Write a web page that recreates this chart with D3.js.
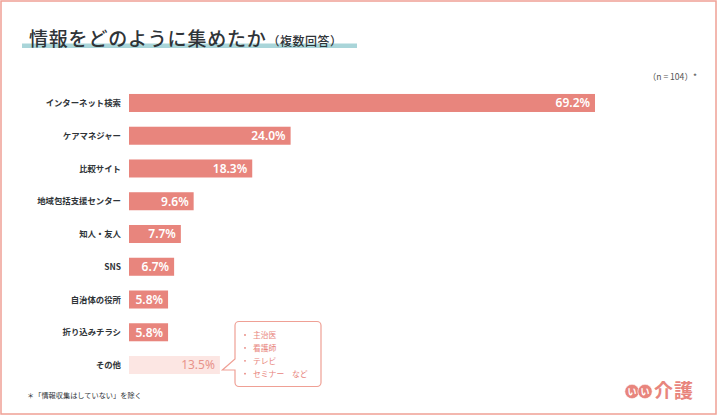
<!DOCTYPE html>
<html>
<head>
<meta charset="utf-8">
<title>情報をどのように集めたか</title>
<script src="https://cdn.jsdelivr.net/npm/d3@7"></script>
<style>
  body { margin: 0; background: #fff; }
  svg { display: block; font-family: "Noto Sans CJK JP", "Noto Sans", sans-serif; }
</style>
</head>
<body>
<script>
// data
var categories = ["インターネット検索", "ケアマネジャー", "比較サイト", "地域包括支援センター",
  "知人・友人", "SNS", "自治体の役所", "折り込みチラシ", "その他"];
var values = [69.2, 24.0, 18.3, 9.6, 7.7, 6.7, 5.8, 5.8, 13.5];
var otherItems = ["主治医", "看護師", "テレビ", "セミナー　など"];

var width = 720, height = 420;
var pink = "#e8857d";

var svg = d3.select("body").append("svg")
  .attr("width", width)
  .attr("height", height);

// frame
svg.append("rect")
  .attr("x", 1).attr("y", 1)
  .attr("width", 715).attr("height", 413)
  .attr("fill", "none")
  .attr("stroke", "#efa095")
  .attr("stroke-width", 1.5);

// title
svg.append("rect")
  .attr("x", 22).attr("y", 43.5)
  .attr("width", 335).attr("height", 4.5)
  .attr("fill", "#a9d5d9");
var title = svg.append("text")
  .attr("x", 29).attr("y", 46)
  .attr("fill", "#2f3438")
  .attr("font-weight", 500);
title.append("tspan").attr("font-size", 19).attr("letter-spacing", 0.8).text("情報をどのように集めたか");
title.append("tspan").attr("font-size", 12).attr("letter-spacing", 0.5).attr("dx", 1).text("（複数回答）");

svg.append("text")
  .attr("x", 697).attr("y", 80)
  .attr("text-anchor", "end")
  .attr("font-size", 8.6)
  .attr("fill", "#555")
  .text("（n = 104）*");

// scales
var x = d3.scaleLinear()
  .domain([0, d3.max(values)])
  .range([129, 595]);

var y = d3.scaleBand()
  .domain(categories)
  .range([86.6, 381.4])
  .paddingInner(0.45)
  .paddingOuter(0.225);

var rows = svg.append("g").selectAll("g")
  .data(categories)
  .enter().append("g");

rows.append("rect")
  .attr("x", x(0))
  .attr("y", function(d) { return y(d); })
  .attr("width", function(d, i) { return x(values[i]) - x(0); })
  .attr("height", y.bandwidth())
  .attr("fill", function(d, i) { return i === categories.length - 1 ? "#fce6e3" : pink; });

rows.append("text")
  .attr("x", 121)
  .attr("y", function(d) { return y(d) + y.bandwidth() / 2; })
  .attr("dy", "0.36em")
  .attr("text-anchor", "end")
  .attr("font-size", 8.4)
  .attr("font-weight", 700)
  .attr("fill", "#2f3438")
  .text(function(d) { return d; });

rows.append("text")
  .attr("x", function(d, i) { return x(values[i]) - 5; })
  .attr("y", function(d) { return y(d) + y.bandwidth() / 2; })
  .attr("dy", "0.36em")
  .attr("text-anchor", "end")
  .attr("font-family", "'Noto Sans', sans-serif")
  .attr("font-size", 12)
  .attr("font-weight", function(d, i) { return i === categories.length - 1 ? 400 : 600; })
  .attr("fill", function(d, i) { return i === categories.length - 1 ? "#e8938a" : "#fff"; })
  .text(function(d, i) { return values[i].toFixed(1) + "%"; });

// callout for その他
var last = categories[categories.length - 1];
var cy = y(last) + y.bandwidth() / 2;
var bx = 235, by = 321.5, bw = 86, bh = 65, r = 4;
var tipX = x(values[values.length - 1]) + 2.5;
var path = d3.path();
path.moveTo(bx + r, by);
path.lineTo(bx + bw - r, by);
path.arcTo(bx + bw, by, bx + bw, by + r, r);
path.lineTo(bx + bw, by + bh - r);
path.arcTo(bx + bw, by + bh, bx + bw - r, by + bh, r);
path.lineTo(bx + r, by + bh);
path.arcTo(bx, by + bh, bx, by + bh - r, r);
path.lineTo(bx, cy + 5);
path.lineTo(tipX, cy + 5);
path.lineTo(bx, cy - 6);
path.lineTo(bx, by + r);
path.arcTo(bx, by, bx + r, by, r);
path.closePath();
svg.append("path")
  .attr("d", path.toString())
  .attr("fill", "#fff")
  .attr("stroke", "#efa095")
  .attr("stroke-width", 1.2);

var item = svg.append("g").selectAll("g")
  .data(otherItems)
  .enter().append("g")
  .attr("transform", function(d, i) { return "translate(0," + (335 + i * 12.9) + ")"; });
item.append("circle")
  .attr("cx", 245).attr("cy", 0).attr("r", 0.9)
  .attr("fill", pink);
item.append("text")
  .attr("x", 253).attr("dy", "0.36em")
  .attr("font-size", 7.8)
  .attr("fill", pink)
  .text(function(d) { return d; });

// footnote
svg.append("text")
  .attr("x", 27).attr("y", 398)
  .attr("font-size", 7.2)
  .attr("fill", "#2f3438")
  .text("＊「情報収集はしていない」を除く");

// logo
var logo = svg.append("g");
[632, 645].forEach(function(c) {
  logo.append("circle").attr("cx", c).attr("cy", 391.5).attr("r", 7.2)
    .attr("fill", pink).attr("stroke", "#fff").attr("stroke-width", 0.6);
  logo.append("text").attr("x", c).attr("y", 391.5).attr("dy", "0.36em")
    .attr("text-anchor", "middle").attr("font-size", 9).attr("font-weight", 700)
    .attr("fill", "#fff").text("い");
});
logo.append("text")
  .attr("x", 654).attr("y", 398)
  .attr("font-size", 19)
  .attr("font-weight", 700)
  .attr("letter-spacing", 1)
  .attr("fill", pink)
  .text("介護");
</script>
</body>
</html>
